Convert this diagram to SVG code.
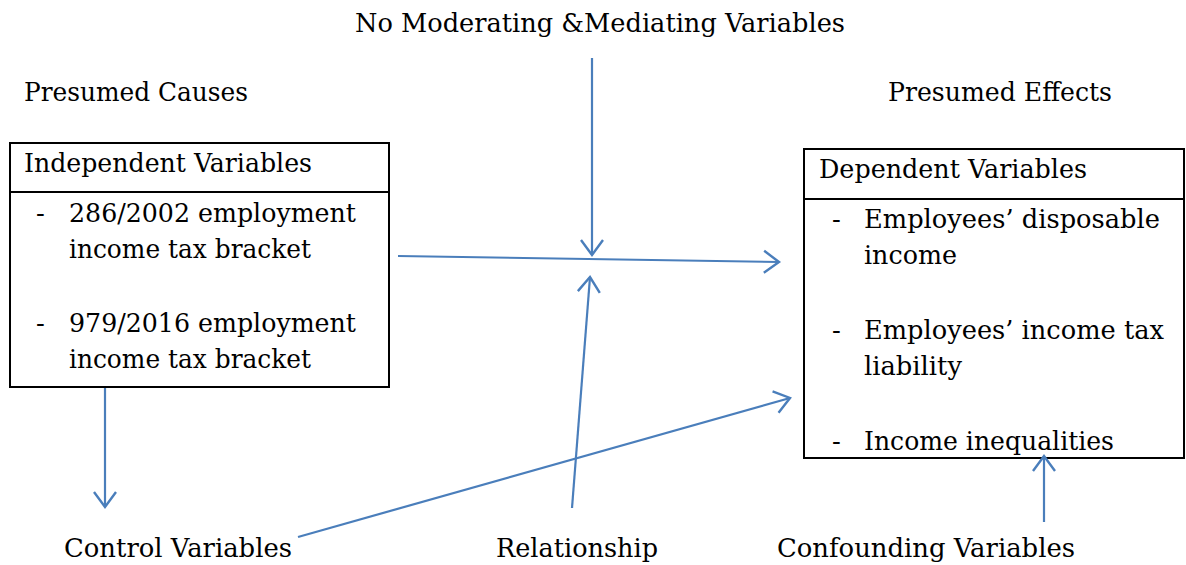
<svg xmlns="http://www.w3.org/2000/svg" width="1186" height="565" viewBox="0 0 1186 565" font-family="'Liberation Serif', 'DejaVu Serif', serif" font-size="26">
<style>
.box{fill:#fff;stroke:#000;stroke-width:2}
.conn line{stroke:#4a7ebb;stroke-width:2.2;fill:none;marker-end:url(#ah)}
text{font-family:"DejaVu Serif",serif}
</style>
<defs>
<marker id="ah" markerUnits="userSpaceOnUse" markerWidth="26" markerHeight="26" refX="19" refY="11" orient="auto" viewBox="0 0 26 22">
<path d="M4,0 L19,11 L4,22" fill="none" stroke="#4a7ebb" stroke-width="2.4"/>
</marker>
</defs>
<g id="title"><text x="355" y="32" textLength="490" lengthAdjust="spacingAndGlyphs">No Moderating &amp;Mediating Variables</text></g>
<g id="causes"><text x="24" y="101" textLength="224" lengthAdjust="spacingAndGlyphs">Presumed Causes</text></g>
<g id="effects"><text x="888" y="101" textLength="224" lengthAdjust="spacingAndGlyphs">Presumed Effects</text></g>
<g id="independent">
<rect class="box" x="10" y="143" width="379" height="244"/>
<line x1="10" y1="192" x2="389" y2="192" stroke="#000" stroke-width="2"/>
<text x="24" y="172" textLength="288" lengthAdjust="spacingAndGlyphs">Independent Variables</text>
<text x="36" y="222">-</text>
<text x="69" y="222" textLength="287" lengthAdjust="spacingAndGlyphs">286/2002 employment</text>
<text x="69" y="258" textLength="242" lengthAdjust="spacingAndGlyphs">income tax bracket</text>
<text x="36" y="332">-</text>
<text x="69" y="332" textLength="287" lengthAdjust="spacingAndGlyphs">979/2016 employment</text>
<text x="69" y="368" textLength="242" lengthAdjust="spacingAndGlyphs">income tax bracket</text>
</g>
<g id="dependent">
<rect class="box" x="804" y="149" width="380" height="309"/>
<line x1="804" y1="199" x2="1184" y2="199" stroke="#000" stroke-width="2"/>
<text x="819" y="178" textLength="268" lengthAdjust="spacingAndGlyphs">Dependent Variables</text>
<text x="832" y="228">-</text>
<text x="864" y="228" textLength="296" lengthAdjust="spacingAndGlyphs">Employees’ disposable</text>
<text x="864" y="264" textLength="93" lengthAdjust="spacingAndGlyphs">income</text>
<text x="832" y="339">-</text>
<text x="864" y="339" textLength="300" lengthAdjust="spacingAndGlyphs">Employees’ income tax</text>
<text x="864" y="375" textLength="98" lengthAdjust="spacingAndGlyphs">liability</text>
<text x="832" y="450">-</text>
<text x="864" y="450" textLength="250" lengthAdjust="spacingAndGlyphs">Income inequalities</text>
</g>
<g id="control"><text x="64" y="557" textLength="228" lengthAdjust="spacingAndGlyphs">Control Variables</text></g>
<g id="relationship"><text x="496" y="557" textLength="162" lengthAdjust="spacingAndGlyphs">Relationship</text></g>
<g id="confounding"><text x="777" y="557" textLength="298" lengthAdjust="spacingAndGlyphs">Confounding Variables</text></g>
<g class="conn" id="connectors">
<line x1="592" y1="58" x2="592" y2="255"/>
<line x1="398" y1="256" x2="779" y2="262"/>
<line x1="572" y1="508" x2="590" y2="277"/>
<line x1="298" y1="537" x2="790" y2="398"/>
<line x1="105" y1="388" x2="105" y2="507"/>
<line x1="1044" y1="522" x2="1044" y2="456"/>
</g>
</svg>
